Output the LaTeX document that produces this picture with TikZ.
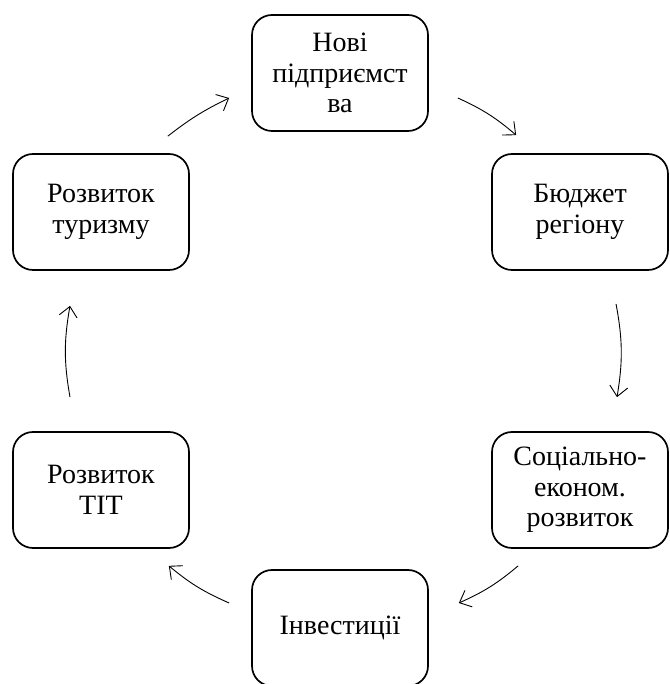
\documentclass[tikz,border=0pt]{standalone}
\usepackage{fontspec}
\setmainfont{Liberation Serif}
\usetikzlibrary{arrows.meta}
\begin{document}
\begin{tikzpicture}[x=1pt,y=1pt,
  box/.style={draw, line width=1.7pt, rounded corners=20pt, minimum width=176pt, minimum height=116pt, align=center, inner sep=2pt, font=\fontsize{28}{30.5}\selectfont},
  arr/.style={line width=0.9pt, -{Straight Barb[length=10pt,width=18pt,line width=0.9pt]}}]
\useasboundingbox (0,0) rectangle (669,684);
\node[box] (n1) at (340,611) {Нові\\підприємст\\ва};
\node[box] (n2) at (580,472) {Бюджет\\регіону};
\node[box] (n3) at (580,194) {Соціально-\\економ.\\розвиток};
\node[box] (n4) at (340,56) {Інвестиції};
\node[box] (n5) at (101,194) {Розвиток\\ТІТ};
\node[box] (n6) at (101,472) {Розвиток\\туризму};
\draw[arr] ([shift={(-22,17)}]n6.north east) to[bend left=6] ([shift={(-22,-25)}]n1.west);
\draw[arr] ([shift={(29,-25)}]n1.east) to[bend left=8] ([shift={(25,18)}]n2.north west);
\draw[arr] ([shift={(36,-33)}]n2.south) to[bend left=10] ([shift={(37,34)}]n3.north);
\draw[arr] ([shift={(27,-17)}]n3.south west) to[bend left=8] ([shift={(30,25)}]n4.east);
\draw[arr] ([shift={(-22,25)}]n4.west) to[bend left=8] ([shift={(-21,-17)}]n5.south east);
\draw[arr] ([shift={(-31,34)}]n5.north) to[bend left=10] ([shift={(-31,-35)}]n6.south);
\end{tikzpicture}
\end{document}
